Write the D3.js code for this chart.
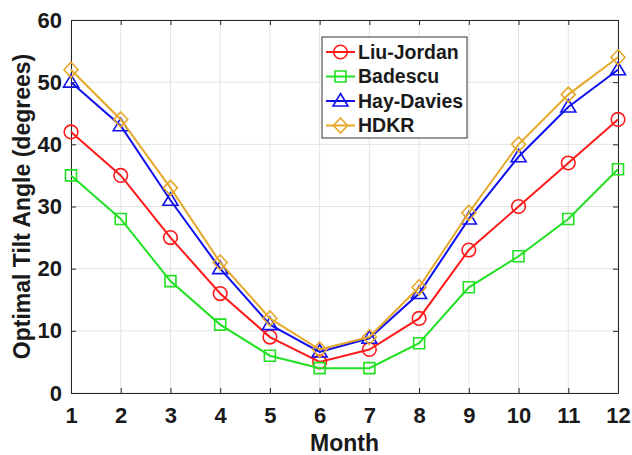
<!DOCTYPE html>
<html>
<head>
<meta charset="utf-8">
<script src="https://cdn.jsdelivr.net/npm/d3@7"></script>
<style>
  body { margin: 0; background: #fff; }
  text { font-family: "Liberation Sans", Arial, sans-serif; font-weight: bold; fill: #1a1a1a; }
</style>
</head>
<body>
<script>
const months = [1, 2, 3, 4, 5, 6, 7, 8, 9, 10, 11, 12];
const liuJordan = [42, 35, 25, 16, 9, 5, 7, 12, 23, 30, 37, 44];
const badescu = [35, 28, 18, 11, 6, 4, 4, 8, 17, 22, 28, 36];
const hayDavies = [50, 43, 31, 20, 11, 6.6, 8.8, 16, 28, 38, 46, 52];
const hdkr = [52, 44, 33, 21, 12, 7, 9, 17, 29, 40, 48, 54];
const yTicks = [0, 10, 20, 30, 40, 50, 60];

const series = [
  { name: 'Liu-Jordan', values: liuJordan, color: '#ff1a1a', marker: 'circle' },
  { name: 'Badescu', values: badescu, color: '#22e022', marker: 'square' },
  { name: 'Hay-Davies', values: hayDavies, color: '#1010ee', marker: 'triangle' },
  { name: 'HDKR', values: hdkr, color: '#e6a82a', marker: 'diamond' }
];

const width = 632, height = 455;
const margin = { left: 71, top: 20, right: 14, bottom: 62 };

const svg = d3.select('body').append('svg').attr('width', width).attr('height', height);

const x = d3.scaleLinear().domain([1, 12]).range([margin.left, width - margin.right]);
const y = d3.scaleLinear().domain([0, 60]).range([height - margin.bottom, margin.top]);

// grid
svg.append('g').selectAll('line').data(months).enter().append('line')
  .attr('x1', d => x(d)).attr('x2', d => x(d))
  .attr('y1', y(0)).attr('y2', y(60))
  .attr('stroke', '#e3e3e3').attr('stroke-width', 1);
svg.append('g').selectAll('line').data(yTicks).enter().append('line')
  .attr('x1', x(1)).attr('x2', x(12))
  .attr('y1', d => y(d)).attr('y2', d => y(d))
  .attr('stroke', '#e3e3e3').attr('stroke-width', 1);

// axes
const xAxis = d3.axisBottom(x).tickValues(months).tickSizeInner(-5).tickSizeOuter(0).tickPadding(14);
const yAxis = d3.axisLeft(y).tickValues(yTicks).tickSizeInner(-5).tickSizeOuter(0).tickPadding(9);
const gx = svg.append('g').attr('transform', `translate(0,${y(0)})`).call(xAxis);
const gy = svg.append('g').attr('transform', `translate(${x(1)},0)`).call(yAxis);
const gxTop = svg.append('g').attr('transform', `translate(0,${y(60)})`)
  .call(d3.axisTop(x).tickValues(months).tickSizeInner(-5).tickSizeOuter(0).tickFormat(''));
const gyRight = svg.append('g').attr('transform', `translate(${x(12)},0)`)
  .call(d3.axisRight(y).tickValues(yTicks).tickSizeInner(-5).tickSizeOuter(0).tickFormat(''));
[gx, gy, gxTop, gyRight].forEach(g => {
  g.selectAll('path, line').attr('stroke', '#262626');
});
gx.selectAll('text').style('font-size', '22px').attr('dy', '0.71em');
gy.selectAll('text').style('font-size', '22px');

// axis titles
svg.append('text').attr('x', (x(1) + x(12)) / 2).attr('y', 451)
  .attr('text-anchor', 'middle').style('font-size', '23px').text('Month');
svg.append('text').attr('transform', `translate(30,${(y(0) + y(60)) / 2}) rotate(-90)`)
  .attr('text-anchor', 'middle').style('font-size', '23px').text('Optimal Tilt Angle (degrees)');

const markerPath = (type, cx, cy) => {
  if (type === 'square') return `M${cx - 5.5},${cy - 5.5}h11v11h-11z`;
  if (type === 'triangle') return `M${cx},${cy - 7.5}L${cx + 7.5},${cy + 5}L${cx - 7.5},${cy + 5}z`;
  return `M${cx},${cy - 7.5}L${cx + 7},${cy}L${cx},${cy + 7.5}L${cx - 7},${cy}z`;
};
const drawMarker = (g, type, cx, cy, color) => {
  if (type === 'circle') {
    g.append('circle').attr('cx', cx).attr('cy', cy).attr('r', 6.8)
      .attr('fill', 'none').attr('stroke', color).attr('stroke-width', 1.6);
  } else {
    g.append('path').attr('d', markerPath(type, cx, cy))
      .attr('fill', 'none').attr('stroke', color).attr('stroke-width', 1.6);
  }
};

const line = d3.line().x((d, i) => x(months[i])).y(d => y(d));

series.forEach(s => {
  const g = svg.append('g');
  g.append('path').attr('d', line(s.values))
    .attr('fill', 'none').attr('stroke', s.color).attr('stroke-width', 2);
  s.values.forEach((v, i) => drawMarker(g, s.marker, x(months[i]), y(v), s.color));
});

// legend
const legend = svg.append('g').attr('transform', 'translate(322,37)');
legend.append('rect').attr('width', 145).attr('height', 101)
  .attr('fill', '#fff').attr('stroke', '#333').attr('stroke-width', 1);
series.forEach((s, i) => {
  const ly = 15 + i * 24.5;
  const g = legend.append('g');
  g.append('line').attr('x1', 4).attr('x2', 33).attr('y1', ly).attr('y2', ly)
    .attr('stroke', s.color).attr('stroke-width', 2);
  drawMarker(g, s.marker, 18.5, ly, s.color);
  g.append('text').attr('x', 36).attr('y', ly).attr('dy', '0.35em')
    .style('font-size', '19.5px').text(s.name);
});
</script>
</body>
</html>
